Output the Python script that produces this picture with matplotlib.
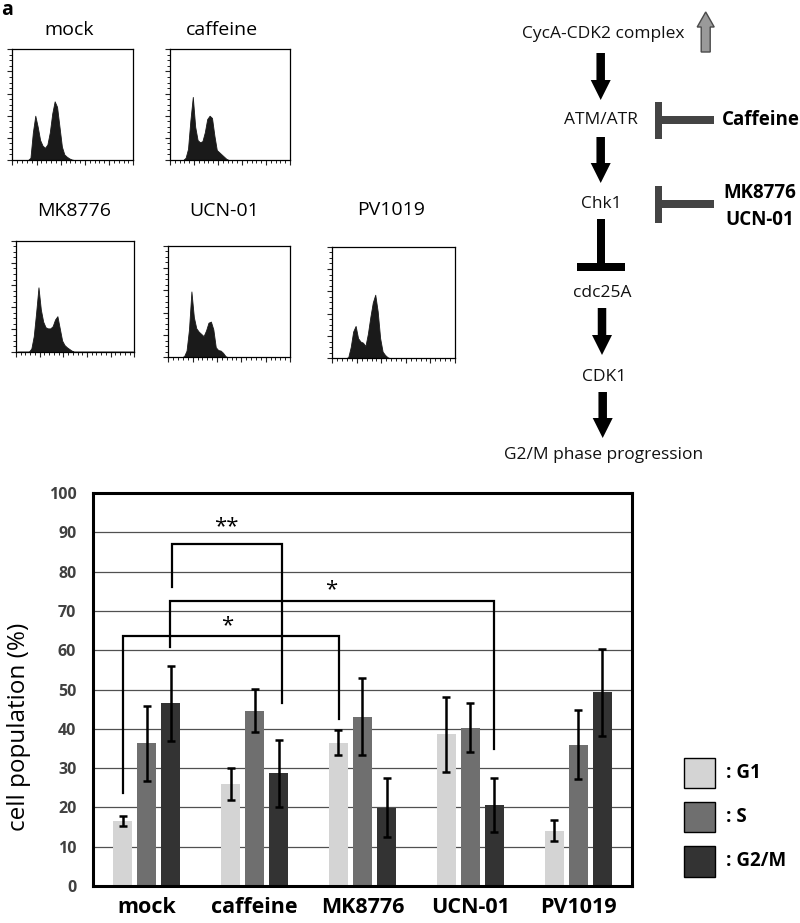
import numpy as np
import matplotlib
matplotlib.use("Agg")
import matplotlib.pyplot as plt
from matplotlib.patches import Rectangle, FancyArrow
from matplotlib.ticker import MultipleLocator

plt.rcParams['font.family'] = ['Open Sans', 'DejaVu Sans']

# ---------------- data ----------------
treatments = ["mock", "caffeine", "MK8776", "UCN-01", "PV1019"]
phases = [": G1", ": S", ": G2/M"]
g1_mean = [16.6, 26.0, 36.5, 38.6, 14.1]
g1_err = [1.3, 4.0, 3.1, 9.5, 2.6]
s_mean = [36.3, 44.6, 43.1, 40.3, 36.0]
s_err = [9.6, 5.5, 9.8, 6.3, 8.7]
g2m_mean = [46.5, 28.7, 19.9, 20.6, 49.3]
g2m_err = [9.6, 8.5, 7.5, 6.8, 11.1]
y_ticks = [0, 10, 20, 30, 40, 50, 60, 70, 80, 90, 100]

# DNA-content histograms (relative counts per channel bin)
hist_mock = [0, 0, 0, 0, 0, 0, 0, 0.02, 0.25, 0.40, 0.30, 0.18, 0.13, 0.11, 0.14, 0.25,
             0.42, 0.53, 0.48, 0.30, 0.12, 0.05, 0.03, 0.015, 0.005, 0, 0, 0, 0, 0,
             0, 0, 0, 0, 0, 0, 0, 0, 0, 0, 0, 0, 0, 0, 0, 0, 0, 0, 0, 0]
hist_caffeine = [0, 0, 0, 0, 0, 0.0, 0.02, 0.10, 0.36, 0.57, 0.30, 0.18, 0.16, 0.17, 0.25, 0.37,
                 0.40, 0.38, 0.22, 0.09, 0.07, 0.05, 0.03, 0.01, 0, 0, 0, 0, 0, 0,
                 0, 0, 0, 0, 0, 0, 0, 0, 0, 0, 0, 0, 0, 0, 0, 0, 0, 0, 0, 0]
hist_mk8776 = [0, 0, 0, 0, 0, 0.0, 0.03, 0.14, 0.35, 0.58, 0.38, 0.27, 0.22, 0.21, 0.21, 0.23,
               0.29, 0.32, 0.21, 0.10, 0.06, 0.04, 0.025, 0.01, 0, 0, 0, 0, 0, 0,
               0, 0, 0, 0, 0, 0, 0, 0, 0, 0, 0, 0, 0, 0, 0, 0, 0, 0, 0, 0]
hist_ucn01 = [0, 0, 0, 0, 0, 0, 0.01, 0.06, 0.25, 0.59, 0.36, 0.26, 0.23, 0.21, 0.19, 0.24,
              0.31, 0.32, 0.25, 0.09, 0.065, 0.06, 0.04, 0.01, 0, 0, 0, 0, 0, 0,
              0, 0, 0, 0, 0, 0, 0, 0, 0, 0, 0, 0, 0, 0, 0, 0, 0, 0, 0, 0]
hist_pv1019 = [0, 0, 0, 0, 0, 0, 0.01, 0.10, 0.24, 0.29, 0.18, 0.15, 0.14, 0.11, 0.22, 0.37,
               0.50, 0.57, 0.42, 0.18, 0.06, 0.03, 0.01, 0, 0, 0, 0, 0, 0, 0,
               0, 0, 0, 0, 0, 0, 0, 0, 0, 0, 0, 0, 0, 0, 0, 0, 0, 0, 0, 0]
hists = [hist_mock, hist_caffeine, hist_mk8776, hist_ucn01, hist_pv1019]

# pathway labels
pathway_nodes = ["CycA-CDK2 complex", "ATM/ATR", "Chk1", "cdc25A", "CDK1", "G2/M phase progression"]

# significance brackets: (left x, right x, top y, left foot y, right foot y, label, label x, label y)
brackets = [
    (0.23, 1.25, 87.0, 76.0, 46.5, "**", 0.74, 91.5),
    (0.215, 3.22, 72.6, 60.9, 34.9, "*", 1.71, 75.5),
    (-0.22, 1.785, 63.7, 23.7, 42.6, "*", 0.74, 66.3),
]

# ---------------- figure ----------------
W, H = 800, 923
fig = plt.figure(figsize=(W / 100, H / 100), dpi=100)


def px_axes(x0, y0, x1, y1):
    return fig.add_axes([x0 / W, 1 - y1 / H, (x1 - x0) / W, (y1 - y0) / H])


# overlay for diagram / legend (pixel coordinates, y downward)
ov = fig.add_axes([0, 0, 1, 1])
ov.set_xlim(0, W)
ov.set_ylim(H, 0)
ov.axis("off")

ov.text(7, 10, "a", fontsize=14, fontweight="bold", ha="center", va="center")

# ---------------- histograms ----------------
hist_boxes = [
    (12.3, 49.3, 133.3, 160.0),
    (170.0, 49.3, 290.0, 160.0),
    (16.0, 240.7, 134.3, 351.7),
    (168.3, 245.7, 290.0, 357.3),
    (332.3, 246.7, 455.0, 358.3),
]
title_pos = [(69, 30), (222, 30), (74, 211), (224, 211), (391, 210)]
nb = len(hist_mock)
centers = (np.arange(nb) + 0.5) / nb
for name, h, box, tp in zip(treatments, hists, hist_boxes, title_pos):
    a = px_axes(*box)
    a.fill_between(centers, 0, h, color="#1a1a1a", lw=0.6, edgecolor="#1a1a1a")
    a.set_xlim(0, 1)
    a.set_ylim(0, 1)
    a.xaxis.set_major_locator(MultipleLocator(0.2))
    a.xaxis.set_minor_locator(MultipleLocator(0.04))
    a.yaxis.set_major_locator(MultipleLocator(0.2))
    a.yaxis.set_minor_locator(MultipleLocator(0.05))
    a.tick_params(which="major", length=3.5, width=0.8, direction="out",
                  labelbottom=False, labelleft=False, color="#222222")
    a.tick_params(which="minor", length=2, width=0.7, direction="out", color="#222222")
    for sp in a.spines.values():
        sp.set_linewidth(0.9)
    ov.text(tp[0], tp[1], name, fontsize=14, ha="center", va="center")

# ---------------- pathway diagram ----------------
node_pos = [(603, 34), (601, 120), (601, 204), (602, 293), (604, 377), (604, 455)]
for lab, (x, y) in zip(pathway_nodes, node_pos):
    ov.text(x, y, lab, fontsize=12.5, ha="center", va="center", color="#111111")

arrow_specs = [(600.7, 53, 100), (600.7, 137, 183), (602, 308, 355), (602.7, 392, 438)]
for x, y0, y1 in arrow_specs:
    ov.add_patch(FancyArrow(x, y0, 0, y1 - y0, width=8.5, head_width=20, head_length=20,
                            length_includes_head=True, color="black", lw=0))

# up-regulation hollow grey arrow
ov.add_patch(FancyArrow(705.7, 52, 0, -40, width=9, head_width=17, head_length=15,
                        length_includes_head=True, facecolor="#9a9a9a", edgecolor="#4a4a4a", lw=1))

# black inhibition T (Chk1 -| cdc25A)
ov.add_patch(Rectangle((596.5, 219), 8.5, 45, color="black", lw=0))
ov.add_patch(Rectangle((577, 263), 48, 8, color="black", lw=0))

# drug inhibition bars
inh_col = "#444444"
for yc, y0, y1 in [(120, 102, 139), (204, 186, 223)]:
    ov.add_patch(Rectangle((655, y0), 7, y1 - y0, color=inh_col, lw=0))
    ov.add_patch(Rectangle((661, yc - 3.6), 53, 7.2, color=inh_col, lw=0))

ov.text(722, 120, "Caffeine", fontsize=13.5, fontweight="bold", ha="left", va="center")
ov.text(760, 193, "MK8776", fontsize=13.5, fontweight="bold", ha="center", va="center")
ov.text(760, 220, "UCN-01", fontsize=13.5, fontweight="bold", ha="center", va="center")

# ---------------- bar chart ----------------
colors = ["#d4d4d4", "#6f6f6f", "#333333"]
ax = px_axes(93, 493, 632, 886)
x = np.arange(len(treatments))
bw = 0.177
off = 0.223
for k, (m, e) in enumerate([(g1_mean, g1_err), (s_mean, s_err), (g2m_mean, g2m_err)]):
    ax.bar(x + (k - 1) * off, m, width=bw, color=colors[k], zorder=2,
           yerr=e, error_kw=dict(ecolor="black", elinewidth=1.8, capsize=3.2, capthick=1.8, zorder=3))

ax.set_xlim(-0.5, len(treatments) - 0.5)
ax.set_ylim(0, 100)
ax.set_yticks(y_ticks)
ax.set_yticklabels([str(v) for v in y_ticks], fontsize=11.5, fontweight="bold", color="#404040")
ax.set_xticks(x)
ax.set_xticklabels(treatments, fontsize=15.5, fontweight="bold")
ax.tick_params(axis="y", length=0, pad=12)
ax.tick_params(axis="x", length=0, pad=8)
ax.grid(axis="y", color="#505050", lw=0.9, zorder=0)
ax.set_axisbelow(True)
for sp in ax.spines.values():
    sp.set_linewidth(2.2)
ax.set_ylabel("cell population (%)", fontsize=17.5)
ax.yaxis.set_label_coords((31 - 93) / 539, (886 - 727) / 393)

for lx, rx, ty, ly, ry, lab, tx, tyl in brackets:
    ax.plot([lx, lx, rx, rx], [ly, ty, ty, ry], color="black", lw=1.6, zorder=4,
            solid_joinstyle="miter")
    ax.text(tx, tyl, lab, fontsize=16, ha="center", va="center", zorder=5)

# ---------------- legend ----------------
leg_y = [(758, 788), (802, 832), (846, 877)]
for lab, c, (y0, y1) in zip(phases, colors, leg_y):
    ov.add_patch(Rectangle((684, y0), 31, y1 - y0, facecolor=c, edgecolor="black", lw=1))
    ov.text(726, (y0 + y1) / 2, lab, fontsize=13.5, fontweight="bold", ha="left", va="center")

fig.savefig("out.png", dpi=100)
